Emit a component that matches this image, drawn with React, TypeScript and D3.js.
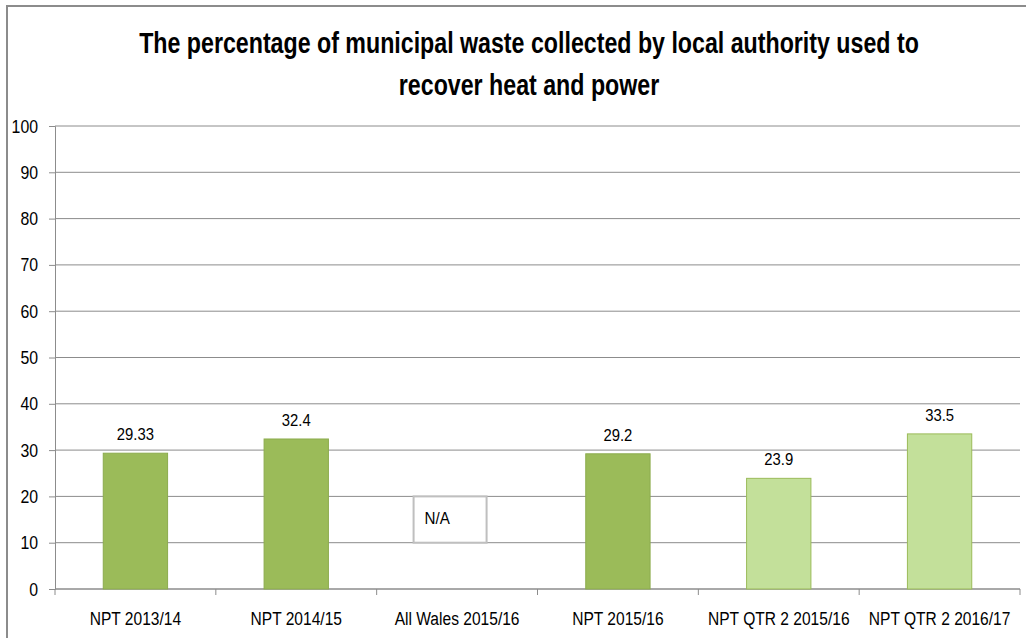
import React, { useEffect, useRef } from "react"
import * as d3 from "d3"

const categories = [
    "NPT 2013/14",
    "NPT 2014/15",
    "All Wales 2015/16",
    "NPT 2015/16",
    "NPT QTR 2 2015/16",
    "NPT QTR 2 2016/17",
]
// null = no data (shown as "N/A")
const values: (number | null)[] = [29.33, 32.4, null, 29.2, 23.9, 33.5]
const valueLabels = ["29.33", "32.4", "", "29.2", "23.9", "33.5"]
const quarterly = [false, false, false, false, true, true]
const yTicks = [0, 10, 20, 30, 40, 50, 60, 70, 80, 90, 100]
const titleLines = [
    "The percentage of municipal waste collected by local authority used to",
    "recover heat and power",
]
const naLabel = "N/A"

const FONT = "'Liberation Sans', Arial, sans-serif"
const WIDTH = 1026
const HEIGHT = 638

// the source uses a narrow font, so squeeze text horizontally
const place = (x: number, y: number, sx: number) => `translate(${x},${y}) scale(${sx},1)`

function WasteChart() {
    const gRef = useRef<SVGGElement>(null)

    useEffect(() => {
        const margin = { top: 126, right: 6, bottom: 49, left: 55 }
        const innerWidth = WIDTH - margin.left - margin.right
        const innerHeight = HEIGHT - margin.top - margin.bottom

        const root = d3.select(gRef.current)
        root.selectAll("*").remove()

        root.append("g")
            .selectAll("text")
            .data(titleLines)
            .join("text")
            .attr("transform", (d, i) => place(529, 53 + i * 42, 0.8))
            .attr("text-anchor", "middle")
            .style("font-family", FONT)
            .style("font-weight", "bold")
            .style("font-size", "29px")
            .attr("fill", "#000")
            .text((d) => d)

        const g = root
            .append("g")
            .attr("transform", `translate(${margin.left},${margin.top})`)

        const xScale = d3
            .scaleBand()
            .domain(categories)
            .range([0, innerWidth])
            .paddingInner(0.6)
            .paddingOuter(0.3)

        const yScale = d3.scaleLinear().domain([0, 100]).range([innerHeight, 0])

        // gridlines
        g.append("g")
            .selectAll("line")
            .data(yTicks)
            .join("line")
            .attr("x1", 0)
            .attr("x2", innerWidth)
            .attr("y1", (d) => yScale(d))
            .attr("y2", (d) => yScale(d))
            .attr("stroke", "#8c8c8c")
            .attr("stroke-width", 1)

        // y axis
        const yAxis = d3.axisLeft(yScale).tickValues(yTicks).tickSize(6).tickFormat(() => "")
        const yG = g.append("g").call(yAxis)
        yG.select(".domain").attr("stroke", "#8c8c8c")
        yG.selectAll(".tick line").attr("stroke", "#8c8c8c")

        g.append("g")
            .selectAll("text")
            .data(yTicks)
            .join("text")
            .attr("transform", (d) => place(-17, yScale(d) + 6.5, 0.88))
            .attr("text-anchor", "end")
            .style("font-family", FONT)
            .style("font-size", "18px")
            .attr("fill", "#000")
            .text((d) => String(d))

        // x axis with ticks at category boundaries
        const step = xScale.step()
        const x0 = xScale(categories[0])! - xScale.paddingOuter() * step
        const boundaries = d3.range(categories.length + 1).map((i) => x0 + i * step)
        g.append("line")
            .attr("x1", 0)
            .attr("x2", innerWidth)
            .attr("y1", innerHeight)
            .attr("y2", innerHeight)
            .attr("stroke", "#8c8c8c")
        g.append("g")
            .selectAll("line")
            .data(boundaries)
            .join("line")
            .attr("x1", (d) => d)
            .attr("x2", (d) => d)
            .attr("y1", innerHeight)
            .attr("y2", innerHeight + 6)
            .attr("stroke", "#8c8c8c")

        g.append("g")
            .selectAll("text")
            .data(categories)
            .join("text")
            .attr("transform", (d) => place(xScale(d)! + xScale.bandwidth() / 2, innerHeight + 36, 0.82))
            .attr("text-anchor", "middle")
            .style("font-family", FONT)
            .style("font-size", "19px")
            .attr("fill", "#000")
            .text((d) => d)

        // bars
        const rows = categories.map((c, i) => ({ c, v: values[i], label: valueLabels[i], q: quarterly[i] }))
        const withData = rows.filter((r) => r.v !== null)

        g.append("g")
            .selectAll("rect")
            .data(withData)
            .join("rect")
            .attr("x", (d) => xScale(d.c)!)
            .attr("y", (d) => yScale(d.v as number))
            .attr("width", xScale.bandwidth())
            .attr("height", (d) => innerHeight - yScale(d.v as number))
            .attr("fill", (d) => (d.q ? "#c3e09a" : "#9bbb59"))
            .attr("stroke", (d) => (d.q ? "#9bbb59" : "#8cac4e"))
            .attr("stroke-width", 1)

        g.append("g")
            .selectAll("text")
            .data(withData)
            .join("text")
            .attr("transform", (d) => place(xScale(d.c)! + xScale.bandwidth() / 2, yScale(d.v as number) - 13, 0.9))
            .attr("text-anchor", "middle")
            .style("font-family", FONT)
            .style("font-size", "16.5px")
            .attr("fill", "#000")
            .text((d) => d.label)

        // N/A box for missing value
        rows.filter((r) => r.v === null).forEach((r) => {
            const cx = xScale(r.c)! + xScale.bandwidth() / 2 - 7
            const boxW = 73
            const nb = g.append("g")
            nb.append("rect")
                .attr("x", cx - boxW / 2)
                .attr("y", yScale(20))
                .attr("width", boxW)
                .attr("height", yScale(10) - yScale(20))
                .attr("fill", "#fff")
                .attr("stroke", "#bfbfbf")
                .attr("stroke-width", 2)
            nb.append("text")
                .attr("transform", place(cx - boxW / 2 + 11, yScale(15) + 4, 0.92))
                .style("font-family", FONT)
                .style("font-size", "16.5px")
                .attr("fill", "#000")
                .text(naLabel)
        })
    }, [])

    return (
        <svg width={WIDTH} height={HEIGHT} style={{ display: "block", position: "absolute", left: 0, top: 0 }}>
            <rect x={0} y={0} width={WIDTH} height={HEIGHT} fill="#fff" />
            {/* outer chart border, only top and left edges fall inside the picture */}
            <path d={`M7,${HEIGHT} L7,6 L${WIDTH},6`} fill="none" stroke="#8c8c8c" strokeWidth={2} />
            <g ref={gRef} />
        </svg>
    )
}

export default function App() {
    return <WasteChart />
}
